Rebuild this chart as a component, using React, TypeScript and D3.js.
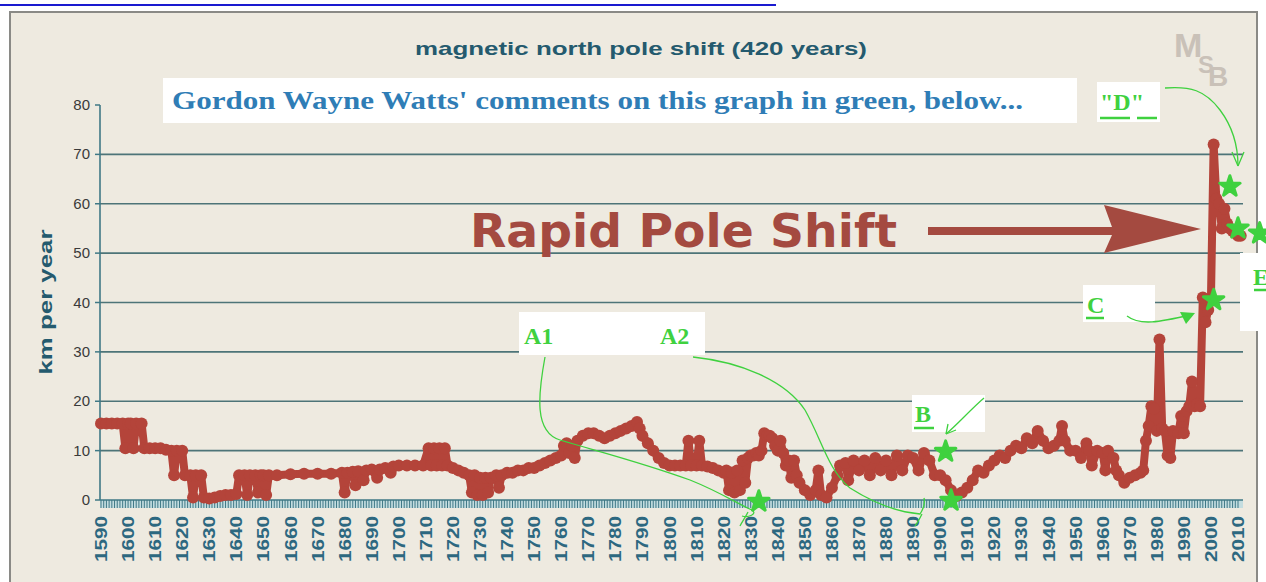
import React from 'react';
import * as d3 from 'd3';

// [year, km per year]
const poleShift: [number, number][] = [
  [1590, 15.5], [1592, 15.5], [1594, 15.5], [1596, 15.5], [1598, 15.5], [1599, 10.5], [1600, 15.5],
  [1601, 15.5], [1602, 10.5], [1603, 15.5], [1605, 15.5], [1606, 10.5], [1608, 10.5], [1610, 10.5],
  [1612, 10.5], [1614, 10.2], [1616, 10], [1617, 5], [1618, 10], [1620, 10], [1621, 5], [1623, 5],
  [1624, 0.5], [1625, 5], [1627, 5], [1628, 0.5], [1630, 0.3], [1632, 0.5], [1634, 0.8], [1636, 1],
  [1638, 1], [1640, 1.2], [1641, 5], [1643, 5], [1644, 1], [1645, 5], [1647, 5], [1648, 1.5],
  [1649, 5], [1650, 5], [1651, 1], [1652, 5], [1655, 5], [1660, 5.2], [1665, 5.3], [1670, 5.3],
  [1675, 5.3], [1679, 5.5], [1680, 1.5], [1681, 5.5], [1683, 5.7], [1684, 3], [1685, 5.8], [1687, 4],
  [1688, 6], [1690, 6.2], [1692, 4.5], [1693, 6.2], [1695, 6.5], [1697, 5.5], [1698, 6.8], [1700, 7],
  [1703, 7], [1706, 7], [1709, 7], [1711, 10.5], [1712, 7], [1713, 10.5], [1714, 7], [1715, 10.5],
  [1716, 7], [1717, 10.5], [1718, 7], [1720, 6.5], [1722, 6], [1724, 5.5], [1726, 5], [1727, 1.5],
  [1728, 5], [1729, 1], [1730, 4.5], [1731, 1], [1732, 4.5], [1733, 1.5], [1734, 4.5], [1736, 5],
  [1737, 2.5], [1738, 5], [1740, 5.5], [1742, 5.5], [1744, 6], [1746, 6], [1748, 6.5], [1750, 6.5],
  [1752, 7], [1754, 7.5], [1756, 8], [1758, 8.5], [1760, 9], [1761, 11], [1762, 11.5], [1763, 9.5],
  [1764, 11], [1765, 8.5], [1766, 12], [1768, 13], [1770, 13.5], [1772, 13.5], [1774, 13],
  [1776, 12.5], [1778, 13], [1780, 13.5], [1782, 14], [1784, 14.5], [1786, 15], [1788, 15.8],
  [1789, 14.5], [1790, 13], [1792, 11.5], [1794, 10], [1796, 8.5], [1798, 7.5], [1800, 7], [1802, 7],
  [1804, 7], [1806, 7], [1807, 12], [1808, 7], [1810, 7], [1811, 12], [1812, 7], [1814, 6.8],
  [1816, 6.5], [1818, 6], [1820, 5.5], [1821, 6], [1822, 2], [1823, 5.5], [1824, 1.5], [1825, 6],
  [1826, 2], [1827, 8], [1828, 3.5], [1829, 8.5], [1830, 9], [1831, 9], [1832, 9.5], [1833, 9],
  [1834, 10], [1835, 13.5], [1836, 13], [1837, 13], [1838, 12.5], [1839, 11], [1840, 10], [1841, 12],
  [1842, 9.5], [1843, 7], [1844, 8], [1845, 4.5], [1846, 8], [1847, 5], [1848, 3.5], [1850, 2],
  [1852, 1], [1854, 2], [1855, 6], [1856, 1], [1858, 0.5], [1860, 2.5], [1862, 5], [1863, 7],
  [1865, 7.5], [1866, 4], [1868, 8], [1870, 6], [1872, 8], [1874, 5], [1876, 8.5], [1878, 6],
  [1880, 8], [1882, 5], [1884, 9], [1886, 6], [1888, 9], [1890, 8.5], [1892, 6], [1894, 9.5],
  [1896, 8], [1898, 5], [1900, 5], [1902, 4], [1904, 2], [1906, 0.8], [1908, 1.5], [1910, 2.5],
  [1912, 4], [1914, 6], [1916, 5.5], [1918, 7], [1920, 8], [1922, 9], [1924, 8.5], [1926, 10],
  [1928, 11], [1930, 10.5], [1932, 12.5], [1934, 11.5], [1936, 14], [1938, 12], [1940, 10.5],
  [1942, 11], [1944, 12], [1945, 15], [1946, 12], [1948, 10], [1950, 10], [1952, 8.5], [1954, 11.5],
  [1955, 10], [1956, 7], [1958, 10], [1960, 9.5], [1961, 6], [1962, 10], [1964, 8.5], [1965, 6],
  [1966, 5], [1968, 3.5], [1970, 4.5], [1972, 5], [1974, 5.5], [1975, 6], [1976, 12], [1977, 15],
  [1978, 19], [1979, 18.5], [1980, 14], [1981, 32.5], [1982, 14.5], [1983, 14], [1984, 9], [1985, 8.5],
  [1986, 14], [1988, 13.5], [1989, 17], [1990, 13.5], [1991, 18], [1992, 19], [1993, 24], [1994, 19],
  [1995, 19.5], [1996, 19], [1997, 41], [1998, 36], [1999, 38.5], [2000, 40.5], [2001, 72],
  [2002, 61], [2003, 60], [2004, 55], [2005, 59], [2006, 56], [2007, 55], [2008, 54.5], [2009, 54],
  [2010, 53.5], [2011, 53.5],
];

const yTicks = [0, 10, 20, 30, 40, 50, 60, 70, 80];
const yearLabels = d3.range(1590, 2011, 10);

// green "comment" dots: [year, value]
const commentDots: [number, number][] = [
  [1833, -0.3], [1902, 9.8], [1904, -0.1], [2001, 40.5], [2007, 63.5], [2010, 55], [2018, 54],
];

const W = 1266;
const H = 582;
const GREEN = '#3fd13f';
const RED = '#b4443a';
const TEAL = '#245a6e';

const App: React.FC = () => {
  const x = d3.scaleLinear().domain([1590, 2010]).range([101, 1238]);
  const y = d3.scaleLinear().domain([0, 80]).range([500, 105]);

  const line = d3.line<[number, number]>()
    .x(d => x(d[0]))
    .y(d => y(d[1]));

  const yearTicks = x.ticks(421).filter(t => t <= 2012);

  const star = d3.symbol().type(d3.symbolStar).size(130)();

  return (
    <svg width={W} height={H} style={{ display: 'block', position: 'absolute', left: 0, top: 0 }}>
      <rect x={0} y={0} width={W} height={H} fill="#ffffff" />
      {/* cut off hyperlink at the very top */}
      <line x1={0} x2={776} y1={5} y2={5} stroke="#1a1ad0" strokeWidth={2} />

      {/* chart frame */}
      <rect x={10} y={12} width={1247} height={580} fill="#eeeae0" stroke="#8a8a86" strokeWidth={2} />

      <text x={641} y={55} textAnchor="middle" fontFamily="Liberation Sans, Arial" fontWeight="bold"
        fontSize={19} fill={TEAL} textLength={452} lengthAdjust="spacingAndGlyphs">
        magnetic north pole shift (420 years)
      </text>

      {/* MSB watermark */}
      <g fontFamily="Liberation Sans, Arial" fontWeight="bold" fill="#c9c1b8">
        <text x={1174} y={57} fontSize={34}>M</text>
        <text x={1198} y={73} fontSize={24}>S</text>
        <text x={1208} y={86} fontSize={28}>B</text>
      </g>

      {/* grid */}
      {yTicks.filter(t => t > 0 && t < 80).map(t => (
        <line key={t} x1={100} x2={1243} y1={y(t)} y2={y(t)} stroke="#4d7478" strokeWidth={1.6} />
      ))}
      <line x1={100} x2={100} y1={y(80)} y2={y(0)} stroke="#3f7886" strokeWidth={1.6} />
      {yTicks.map(t => (
        <g key={t}>
          <line x1={95} x2={100} y1={y(t)} y2={y(t)} stroke="#3f7886" strokeWidth={1.5} />
          <text x={90} y={y(t) + 5} textAnchor="end" fontFamily="Liberation Sans, Arial" fontSize={15}
            fill="#3a3a3a">{t}</text>
        </g>
      ))}
      <text transform="translate(52,302) rotate(-90)" textAnchor="middle" fontFamily="Liberation Sans, Arial"
        fontWeight="bold" fontSize={19} fill={TEAL} textLength={145} lengthAdjust="spacingAndGlyphs">
        km per year
      </text>

      {/* x axis: one tick per year */}
      <rect x={100} y={500} width={1143} height={8} fill="#c4dde0" />
      <line x1={100} x2={1243} y1={500} y2={500} stroke="#3f7886" strokeWidth={1.6} />
      {yearTicks.map(t => (
        <line key={t} x1={x(t)} x2={x(t)} y1={500} y2={508} stroke="#3f7886" strokeWidth={1} />
      ))}
      {yearLabels.map(t => (
        <text key={t} transform={`translate(${x(t) + 6},${516}) rotate(-90)`} textAnchor="end"
          fontFamily="Liberation Sans, Arial" fontWeight="bold" fontSize={17} fill="#2d6880"
          textLength={46} lengthAdjust="spacingAndGlyphs">{t}</text>
      ))}

      {/* series */}
      <path d={line(poleShift) || ''} fill="none" stroke={RED} strokeWidth={8} strokeLinejoin="round" />
      {poleShift.map((d, i) => (
        <circle key={i} cx={x(d[0])} cy={y(d[1])} r={6} fill={RED} />
      ))}

      {/* comment box */}
      <rect x={163} y={78} width={914} height={45} fill="#ffffff" />
      <text x={172} y={109} fontFamily="Liberation Serif, Times New Roman" fontWeight="bold" fontSize={25}
        fill="#2f7db6" textLength={851} lengthAdjust="spacingAndGlyphs">
        Gordon Wayne Watts' comments on this graph in green, below...
      </text>

      {/* Rapid Pole Shift */}
      <text x={470} y={247} fontFamily="DejaVu Sans, Verdana" fontWeight="bold" fontSize={46} fill="#a44a40"
        textLength={427} lengthAdjust="spacingAndGlyphs">Rapid Pole Shift</text>
      <path d="M928,227 L1112,227 L1104,205 L1201,229 L1104,253 L1112,235 L928,235 Z" fill="#a44a40" />

      {/* green annotation boxes */}
      <g fill="#ffffff">
        <rect x={519} y={312} width={186} height={43} />
        <rect x={912} y={395} width={73} height={37} />
        <rect x={1083} y={285} width={72} height={37} />
        <rect x={1097} y={82} width={63} height={40} />
        <rect x={1240} y={253} width={26} height={78} />
      </g>
      <g fontFamily="Liberation Serif, Times New Roman" fontWeight="bold" fill={GREEN} fontSize={24}>
        <text x={524} y={344}>A1</text>
        <text x={660} y={344}>A2</text>
        <text x={915} y={422}>B</text>
        <text x={1087} y={313}>C</text>
        <text x={1100} y={110}>"D"</text>
        <text x={1253} y={285}>E</text>
      </g>
      <g stroke={GREEN} strokeWidth={2.5}>
        <line x1={914} x2={934} y1={428} y2={428} />
        <line x1={1086} x2={1104} y1={318} y2={318} />
        <line x1={1100} x2={1130} y1={118} y2={118} />
        <line x1={1137} x2={1157} y1={118} y2={118} />
        <line x1={1254} x2={1266} y1={290} y2={290} />
      </g>
      <g fill="none" stroke={GREEN} strokeWidth={1.3}>
        <path d="M545,357 C538,395 534,432 560,440 C600,452 640,462 690,480 C720,492 740,505 752,510 C758,514 748,518 742,516" />
        <path d="M748,512 C745,518 742,522 740,526" />
        <path d="M693,357 C740,362 785,380 805,410 C822,440 828,470 850,488 C872,502 895,512 920,514 C924,508 925,502 924,498" />
        <path d="M922,514 C920,518 918,522 915,526" />
        <path d="M984,398 C970,410 958,424 946,434" />
        <path d="M946,434 L948,424 M946,434 L956,430" />
        <path d="M1127,316 C1140,326 1160,322 1190,315" />
        <path d="M1165,88 C1190,86 1205,90 1220,110 C1235,130 1238,150 1238,166" />
        <path d="M1238,166 L1232,152 M1238,166 L1244,152" />
      </g>
      <path d="M1180,312 L1195,313 L1186,324 Z" fill={GREEN} />
      {commentDots.map((d, i) => (
        <path key={i} d={star || ''} transform={`translate(${x(d[0])},${y(d[1])})`} fill={GREEN}
          stroke={GREEN} strokeWidth={3} strokeLinejoin="round" />
      ))}
    </svg>
  );
};

export default App;
